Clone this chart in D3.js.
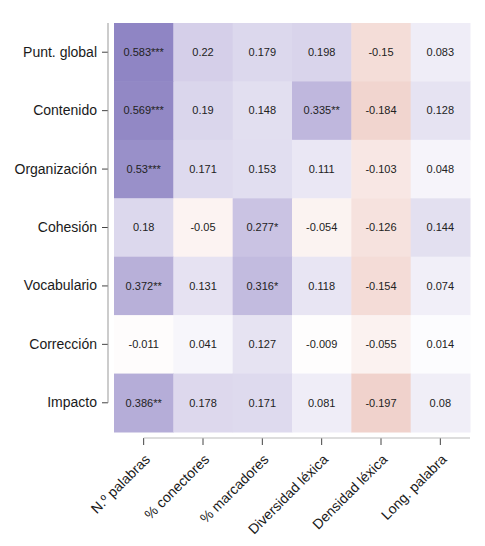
<!DOCTYPE html>
<html>
<head>
<meta charset="utf-8">
<script src="https://cdn.jsdelivr.net/npm/d3@7"></script>
<style>
  body { margin: 0; background: #fff; }
  svg { display: block; }
</style>
</head>
<body>
<svg id="chart" width="485" height="546"></svg>
<script>
const rows = ["Punt. global", "Contenido", "Organización", "Cohesión", "Vocabulario", "Corrección", "Impacto"];
const cols = ["N.º palabras", "% conectores", "% marcadores", "Diversidad léxica", "Densidad léxica", "Long. palabra"];

// correlation per row, in column order
const values = [
  [0.583, 0.22, 0.179, 0.198, -0.15, 0.083],
  [0.569, 0.19, 0.148, 0.335, -0.184, 0.128],
  [0.53, 0.171, 0.153, 0.111, -0.103, 0.048],
  [0.18, -0.05, 0.277, -0.054, -0.126, 0.144],
  [0.372, 0.131, 0.316, 0.118, -0.154, 0.074],
  [-0.011, 0.041, 0.127, -0.009, -0.055, 0.014],
  [0.386, 0.178, 0.171, 0.081, -0.197, 0.08]
];

// significance stars, same layout
const stars = [
  ["***", "", "", "", "", ""],
  ["***", "", "", "**", "", ""],
  ["***", "", "", "", "", ""],
  ["", "", "*", "", "", ""],
  ["**", "", "*", "", "", ""],
  ["", "", "", "", "", ""],
  ["**", "", "", "", "", ""]
];

const svg = d3.select("#chart");
const font = "Liberation Sans, Arial, Helvetica, sans-serif";

const x = d3.scaleBand().domain(cols).range([114, 470]);
const y = d3.scaleBand().domain(rows).range([23, 432]);

const color = d3.scaleLinear()
  .domain([-0.6, 0, 0.6])
  .range(["#c8786a", "#ffffff", "#8c82c2"])
  .interpolate(d3.interpolateLab)
  .clamp(true);

const cells = [];
rows.forEach((r, i) => cols.forEach((c, j) => {
  cells.push({ row: r, col: c, value: values[i][j], star: stars[i][j] });
}));

// tiles
svg.append("g")
  .selectAll("rect")
  .data(cells)
  .join("rect")
  .attr("x", d => x(d.col))
  .attr("y", d => y(d.row))
  .attr("width", x.bandwidth() + 0.5)
  .attr("height", y.bandwidth() + 0.5)
  .attr("fill", d => color(d.value));

// cell labels
svg.append("g")
  .selectAll("text")
  .data(cells)
  .join("text")
  .attr("x", d => x(d.col) + x.bandwidth() / 2)
  .attr("y", d => y(d.row) + y.bandwidth() / 2)
  .attr("dy", "0.35em")
  .attr("text-anchor", "middle")
  .attr("font-family", font)
  .attr("font-size", "11px")
  .attr("fill", "#222")
  .text(d => d.value + d.star);

// y axis, line capped at the last tick
const yAxis = svg.append("g")
  .attr("transform", "translate(108,0)")
  .call(d3.axisLeft(y).tickSize(6).tickPadding(5))
  .attr("font-family", font);
yAxis.select(".domain").remove();
yAxis.append("line")
  .attr("x1", 0).attr("x2", 0)
  .attr("y1", 23)
  .attr("y2", y(rows[rows.length - 1]) + y.bandwidth() / 2)
  .attr("stroke", "#999");
yAxis.selectAll(".tick line").attr("stroke", "#444");
yAxis.selectAll(".tick text")
  .attr("font-size", "14px")
  .attr("fill", "#1a1a1a");

// x axis, line starts at the first tick
const xAxis = svg.append("g")
  .attr("transform", "translate(0,438)")
  .call(d3.axisBottom(x).tickSize(7).tickPadding(4))
  .attr("font-family", font);
xAxis.select(".domain").remove();
xAxis.append("line")
  .attr("x1", x(cols[0]) + x.bandwidth() / 2)
  .attr("x2", 470)
  .attr("y1", 0).attr("y2", 0)
  .attr("stroke", "#bbb");
xAxis.selectAll(".tick line").attr("stroke", "#444");
xAxis.selectAll(".tick text")
  .attr("font-size", "14px")
  .attr("fill", "#1a1a1a")
  .attr("text-anchor", "end")
  .attr("dy", "0.35em")
  .attr("transform", "translate(-4,11) rotate(-45)");
</script>
</body>
</html>
